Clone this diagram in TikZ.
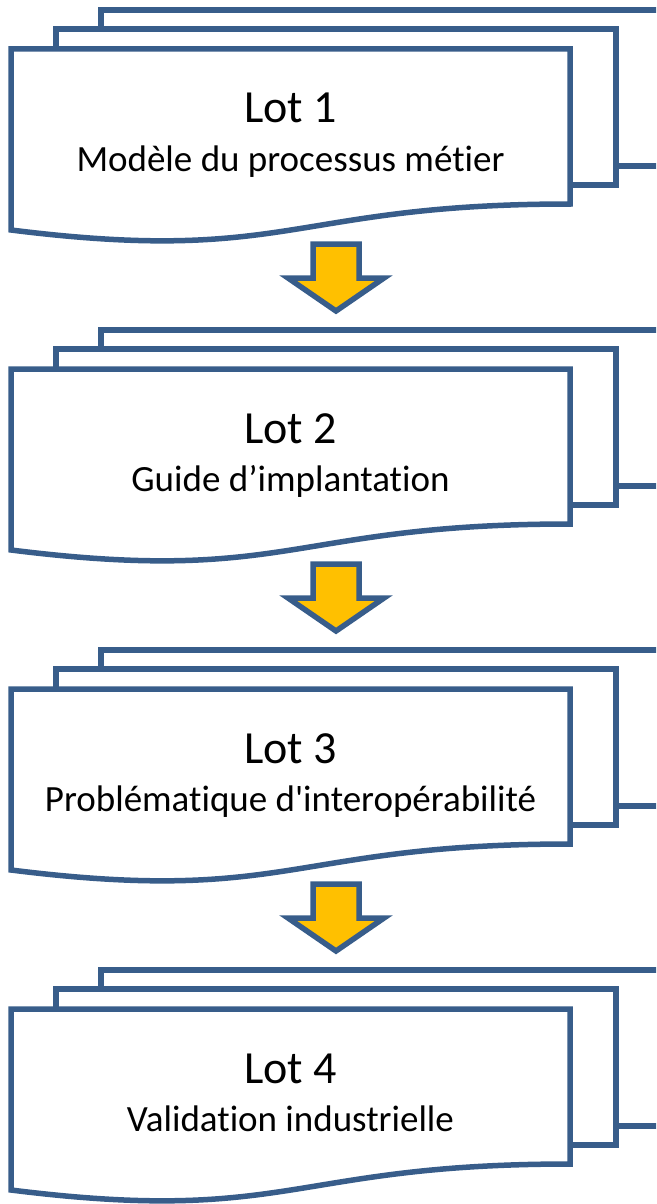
\documentclass[tikz,border=0pt]{standalone}
\usepackage{fontspec}
\setmainfont{Carlito}[Ligatures=CommonOff]
\newfontfamily\plainfont{Carlito}[Ligatures={CommonOff,TeXOff}]
\definecolor{docblue}{HTML}{385D8A}
\definecolor{arrowyellow}{HTML}{FFC000}
\tikzset{
  page/.style={draw=docblue, line width=5.5pt, fill=white},
  blockarrow/.style={draw=docblue, line width=5.5pt, fill=arrowyellow, line join=miter},
  lottitle/.style={anchor=base, inner sep=0pt, font=\fontsize{46}{50}\selectfont},
  lotsub/.style={anchor=base, inner sep=0pt, font=\fontsize{37}{40}\selectfont},
}
\newcommand{\multidoc}[4]{% #1 offset, #2 name, #3 title, #4 subtitle
  \draw[page] (101,10+#1) rectangle (661,166+#1);
  \draw[page] (56,29+#1) rectangle (616,185+#1);
  \draw[page] (11,49+#1) -- (570,49+#1) -- (570,204+#1)
     .. controls (290,204+#1) and (290,265+#1) .. (11,230+#1) -- cycle;
  \node[lottitle] (#2t) at (290.5,123+#1) {#3};
  \node[lotsub] (#2s) at (290.5,171+#1) {#4};
}
\newcommand{\downarrowshape}[2]{% #1 offset, #2 name
  \coordinate (#2) at (336,244+#1);
  \draw[blockarrow] ([xshift=-23pt]#2) -- ([xshift=23pt]#2) -- ([xshift=23pt,yshift=-34pt]#2)
    -- ([xshift=48pt,yshift=-34pt]#2) -- ([yshift=-67pt]#2) -- ([xshift=-48pt,yshift=-34pt]#2)
    -- ([xshift=-23pt,yshift=-34pt]#2) -- cycle;
}
\begin{document}
\begin{tikzpicture}[x=1pt,y=-1pt]
\useasboundingbox (0,0) rectangle (656,1204);
\clip (0,0) rectangle (656,1204);
\multidoc{0}{lotA}{Lot 1}{Modèle du processus métier}
\downarrowshape{0}{arrA}
\multidoc{320}{lotB}{Lot 2}{Guide d’implantation}
\downarrowshape{320}{arrB}
\multidoc{640}{lotC}{Lot 3}{Problématique d{\plainfont'}interopérabilité}
\downarrowshape{640}{arrC}
\multidoc{960}{lotD}{Lot 4}{Validation industrielle}
\end{tikzpicture}
\end{document}
